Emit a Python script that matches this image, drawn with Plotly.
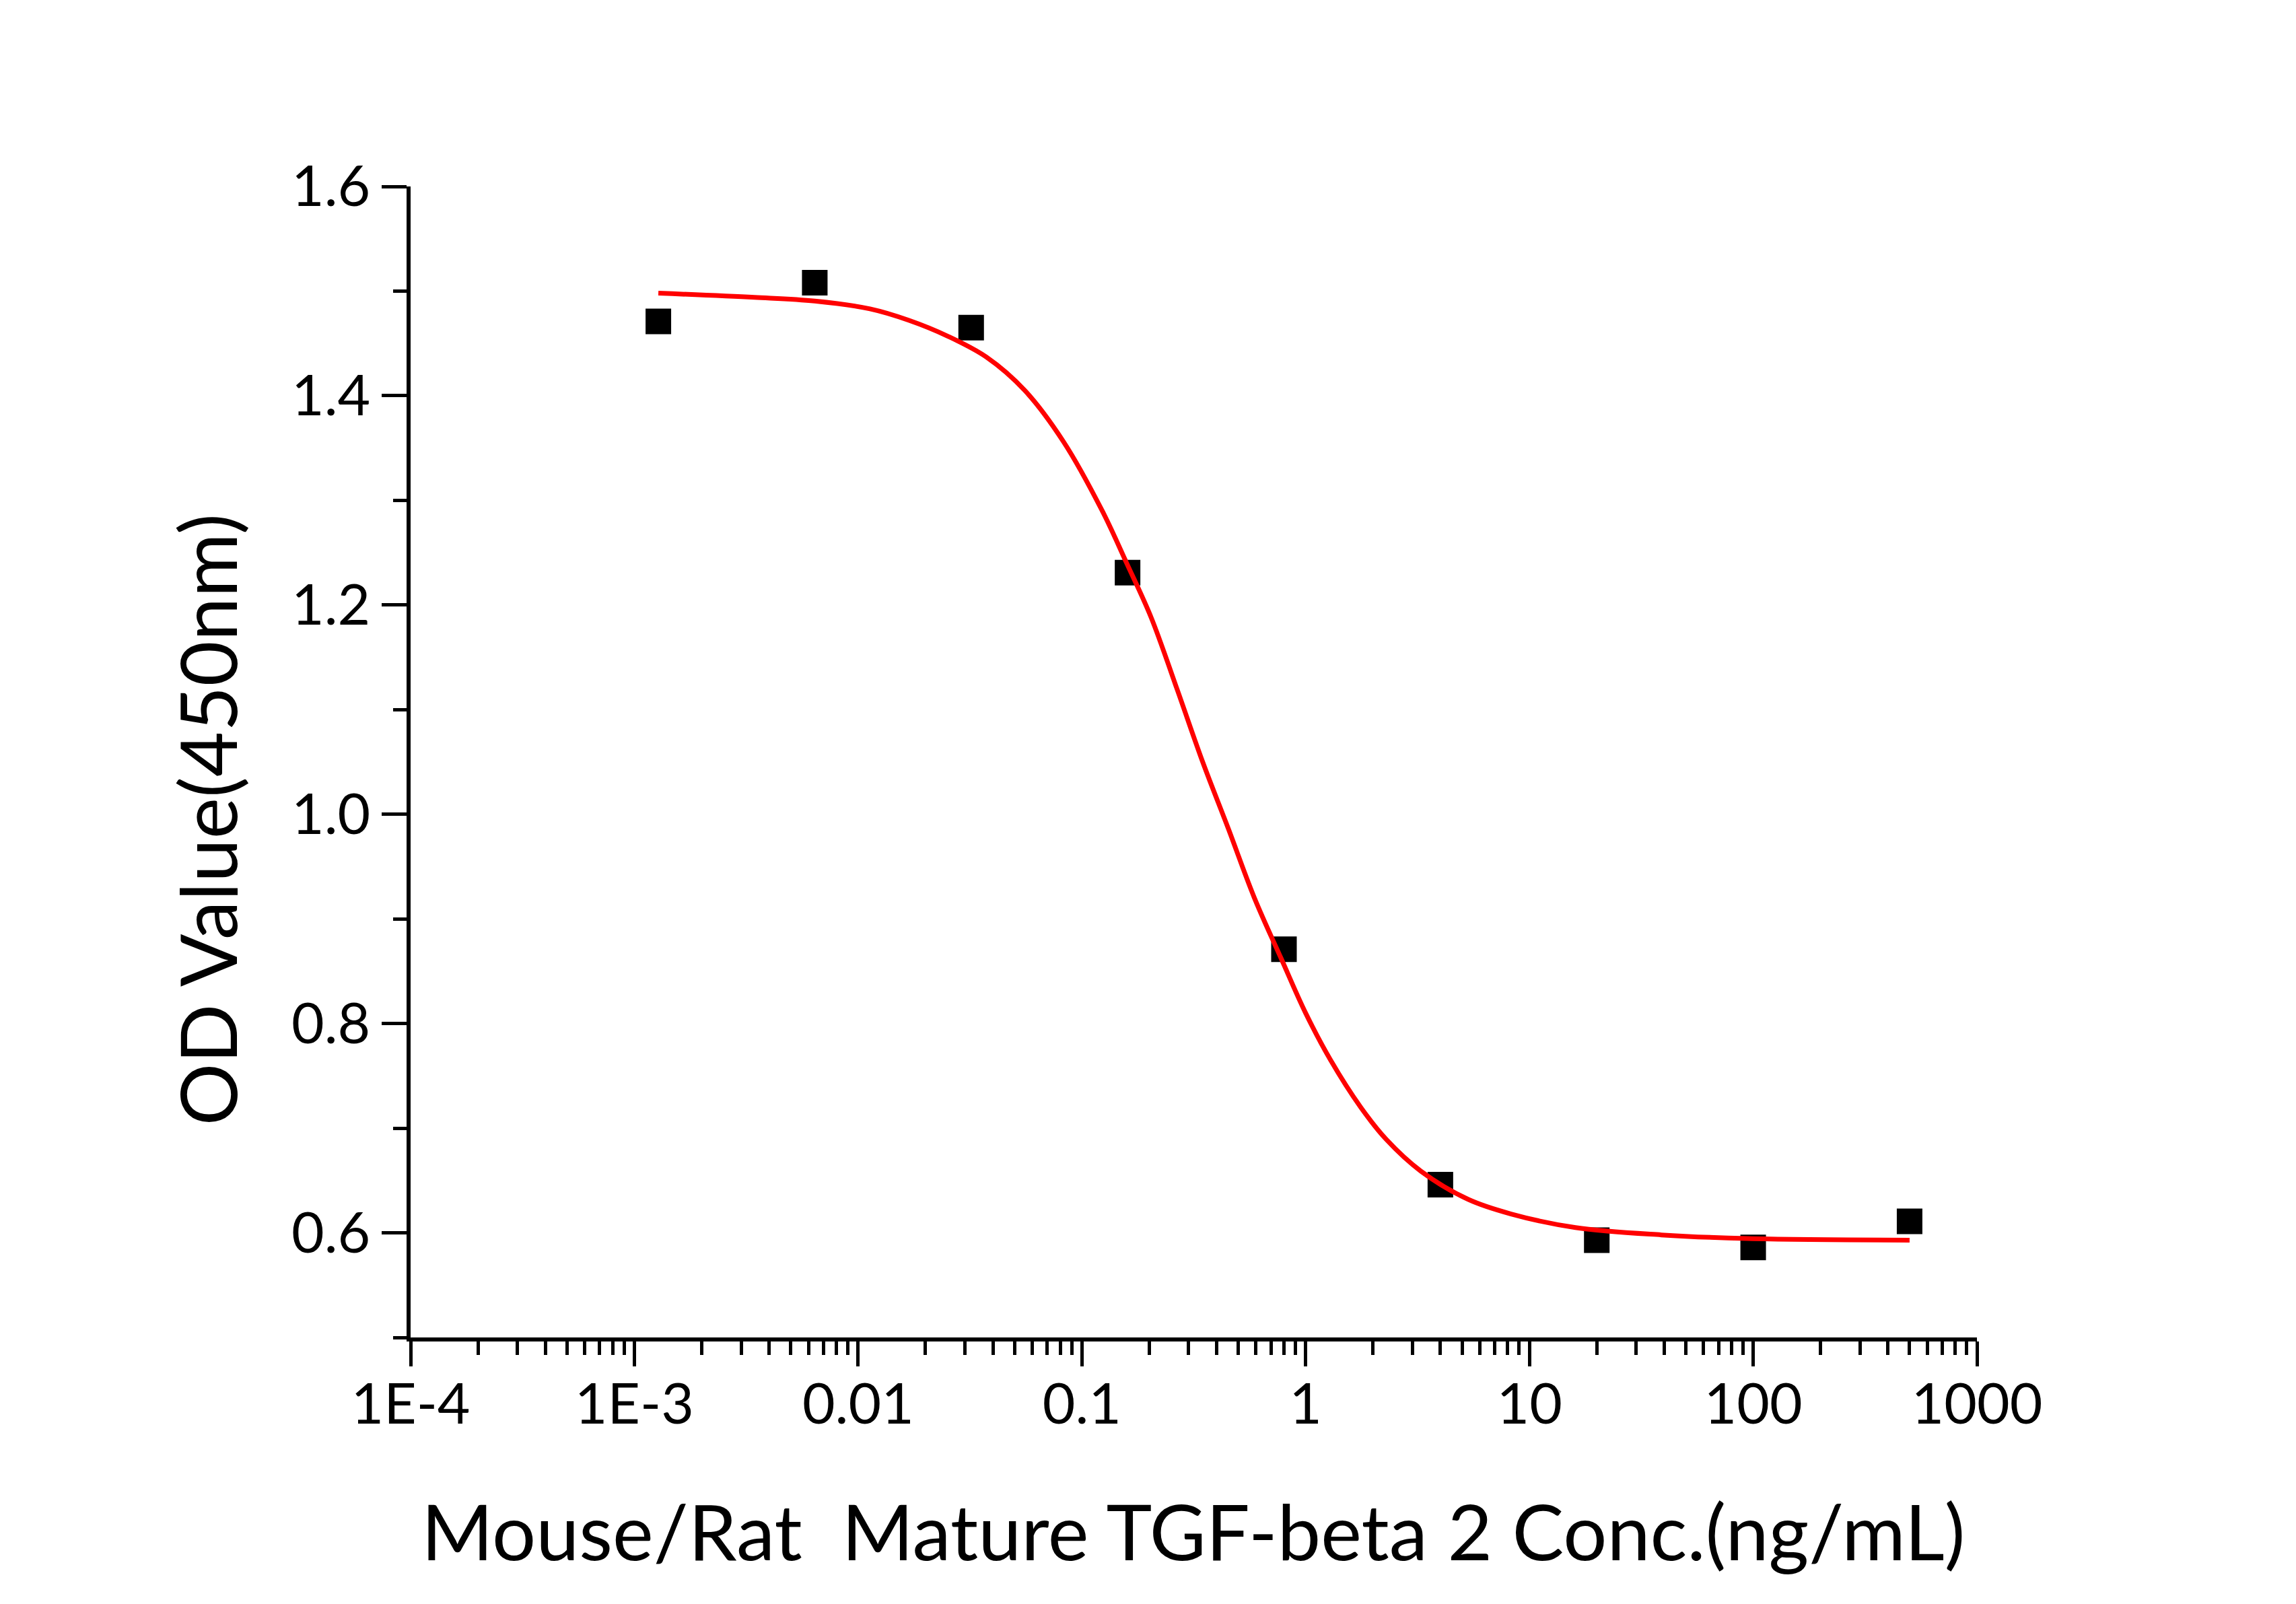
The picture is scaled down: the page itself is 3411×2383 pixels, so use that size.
import plotly.graph_objects as go

# measured points (concentration ng/mL, OD at 450nm)
conc = [0.00128, 0.0064, 0.032, 0.16, 0.8, 4, 20, 100, 500]
od = [1.471, 1.508, 1.465, 1.231, 0.871, 0.646, 0.593, 0.586, 0.611]

# fitted curve
fit_conc = [0.00128, 0.00344, 0.0064, 0.0113, 0.0169, 0.0251, 0.0374, 0.0556,
            0.0828, 0.1233, 0.1585, 0.204, 0.2658, 0.3466, 0.4518, 0.589,
            0.778, 1.0, 1.293, 1.762, 2.298, 3.27, 5.32, 8.28, 16.06, 38.86,
            94.1, 500]
fit_od = [1.498, 1.494, 1.4905, 1.483, 1.472, 1.457, 1.437, 1.405,
          1.356, 1.290, 1.240, 1.188, 1.120, 1.050, 0.986, 0.9205,
          0.862, 0.810, 0.765, 0.720, 0.689, 0.659, 0.632, 0.618, 0.605, 0.598,
          0.5945, 0.593]

x_tickvals = [1e-4, 1e-3, 0.01, 0.1, 1, 10, 100, 1000]
x_ticktext = ["1E-4", "1E-3", "0.01", "0.1", "1", "10", "100", "1000"]
y_tickvals = [0.6, 0.8, 1.0, 1.2, 1.4, 1.6]
y_ticktext = ["0.6", "0.8", "1.0", "1.2", "1.4", "1.6"]

FONT = "Lato"

fig = go.Figure()

fig.add_trace(go.Scatter(
    x=conc, y=od, mode="markers",
    marker=dict(symbol="square", size=38, color="black", line=dict(width=0)),
    showlegend=False))

fig.add_trace(go.Scatter(
    x=fit_conc, y=fit_od, mode="lines",
    line=dict(color="#ff0000", width=7, shape="spline", smoothing=1.0),
    showlegend=False))

axis_common = dict(
    showline=True, linecolor="black", linewidth=6,
    showgrid=False, zeroline=False, mirror=False,
    ticks="outside", tickcolor="black", tickwidth=5, ticklen=37,
    tickfont=dict(family=FONT, size=84, color="black"),
)

fig.update_xaxes(
    type="log", range=[-4, 3],
    tickmode="array", tickvals=x_tickvals, ticktext=x_ticktext,
    ticklabelstandoff=-16,
    minor=dict(ticks="outside", ticklen=20, tickwidth=5, tickcolor="black", dtick="D1"),
    **axis_common)

fig.update_yaxes(
    range=[0.5, 1.6],
    tickmode="array", tickvals=y_tickvals, ticktext=y_ticktext,
    minor=dict(ticks="outside", ticklen=20, tickwidth=5, tickcolor="black",
               tick0=0.5, dtick=0.1),
    **axis_common)

# axis titles as annotations so they sit where the original has them
fig.add_annotation(
    text="Mouse/Rat&nbsp;&nbsp;Mature TGF-beta 2 Conc.(ng/mL)",
    xref="paper", yref="paper", x=0.4995, y=-0.167,
    xanchor="center", yanchor="middle", showarrow=False,
    font=dict(family=FONT, size=115, color="black"))
fig.add_annotation(
    text="OD Value(450nm)", textangle=-90,
    xref="paper", yref="paper", x=-0.13, y=0.4497,
    xanchor="center", yanchor="middle", showarrow=False,
    font=dict(family=FONT, size=116, color="black"))

# page body has an 8px margin, so the figure is a bit smaller than the window
fig.update_layout(
    width=3395, height=2367,
    margin=dict(l=602, r=466, t=269, b=388),
    paper_bgcolor="white", plot_bgcolor="white",
    font=dict(family=FONT, color="black"),
)

fig.write_html("out.html")
